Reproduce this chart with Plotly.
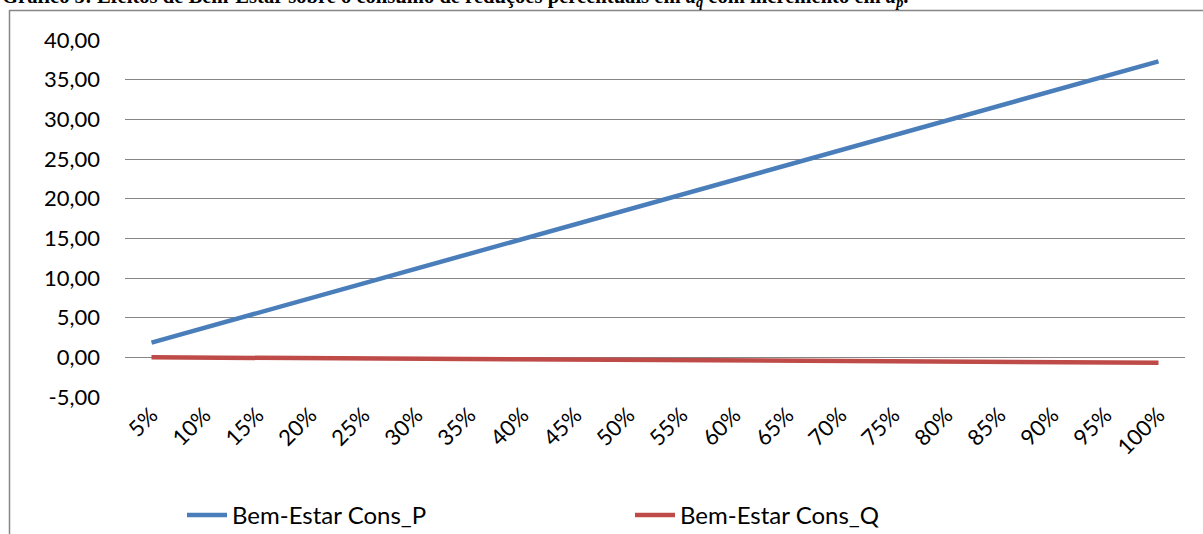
import plotly.graph_objects as go

# Percentage steps on the horizontal axis
categorias = ["5%", "10%", "15%", "20%", "25%", "30%", "35%", "40%", "45%", "50%",
              "55%", "60%", "65%", "70%", "75%", "80%", "85%", "90%", "95%", "100%"]

# Welfare effect on consumption of P and Q
bem_estar_p = [1.86, 3.72, 5.58, 7.45, 9.31, 11.17, 13.03, 14.90, 16.76, 18.62,
               20.49, 22.35, 24.22, 26.08, 27.95, 29.82, 31.68, 33.55, 35.42, 37.30]
bem_estar_q = [0.00, -0.04, -0.07, -0.11, -0.14, -0.18, -0.21, -0.25, -0.28, -0.32,
               -0.35, -0.39, -0.42, -0.46, -0.49, -0.53, -0.56, -0.60, -0.63, -0.67]

# Vertical axis ticks
y_ticks = [-5, 0, 5, 10, 15, 20, 25, 30, 35, 40]
y_tick_text = ["-5,00", "0,00", "5,00", "10,00", "15,00", "20,00",
               "25,00", "30,00", "35,00", "40,00"]

titulo = ("<b>Gráfico 5: Efeitos de Bem-Estar sobre o consumo de reduções percentuais em "
          "<i>a<sub>q</sub></i> com incremento em <i>a<sub>p</sub></i>.</b>")

FONT = "Lato"
W, H = 1203, 534
L, R, T, B = 125, 18, 40, 137
pw, ph = W - L - R, H - T - B


def px_to_paper(x, y):
    return (x - L) / pw, (H - B - y) / ph


fig = go.Figure()
fig.add_trace(go.Scatter(x=categorias, y=bem_estar_p, mode="lines", name="Bem-Estar Cons_P",
                         line=dict(color="#4A7EBB", width=4.5)))
fig.add_trace(go.Scatter(x=categorias, y=bem_estar_q, mode="lines", name="Bem-Estar Cons_Q",
                         line=dict(color="#BE4B48", width=4.5)))

# Outer chart frame (left and top edges)
x0, y0 = px_to_paper(9.5, 560)
x1, y1 = px_to_paper(9.5, 10.5)
x2, _ = px_to_paper(1230, 10.5)
fig.add_shape(type="path", xref="paper", yref="paper",
              path=f"M {x0},{y0} L {x1},{y1} L {x2},{y1}",
              line=dict(color="#868686", width=1.5))

# Caption above the frame
tx, ty = px_to_paper(0, 12)
fig.add_annotation(text=titulo, xref="paper", yref="paper", x=tx, y=ty,
                   xanchor="left", yanchor="bottom", showarrow=False,
                   font=dict(family="Liberation Serif", size=20.6, color="black"))

lx, ly = px_to_paper(182, 493)
fig.update_layout(
    width=W, height=H,
    margin=dict(l=L, r=R, t=T, b=B, autoexpand=False),
    paper_bgcolor="white", plot_bgcolor="white",
    font=dict(family=FONT, size=22, color="black"),
    showlegend=True,
    legend=dict(orientation="h", x=lx, xanchor="left", y=ly, yanchor="top",
                font=dict(family=FONT, size=24), itemwidth=40, traceorder="normal",
                entrywidth=393, entrywidthmode="pixels"),
    xaxis=dict(type="category", showgrid=False, zeroline=False, showline=False,
               tickangle=-45, ticks="", tickfont=dict(family=FONT, size=22),
               range=[-0.5, len(categorias) - 0.5]),
    yaxis=dict(range=[-5, 40], tickvals=y_ticks, ticktext=y_tick_text,
               showgrid=True, gridcolor="#868686", gridwidth=1.2, zeroline=False,
               showline=False, ticks="", ticklabelstandoff=24,
               tickfont=dict(family=FONT, size=22)),
)

fig.write_html("out.html")
